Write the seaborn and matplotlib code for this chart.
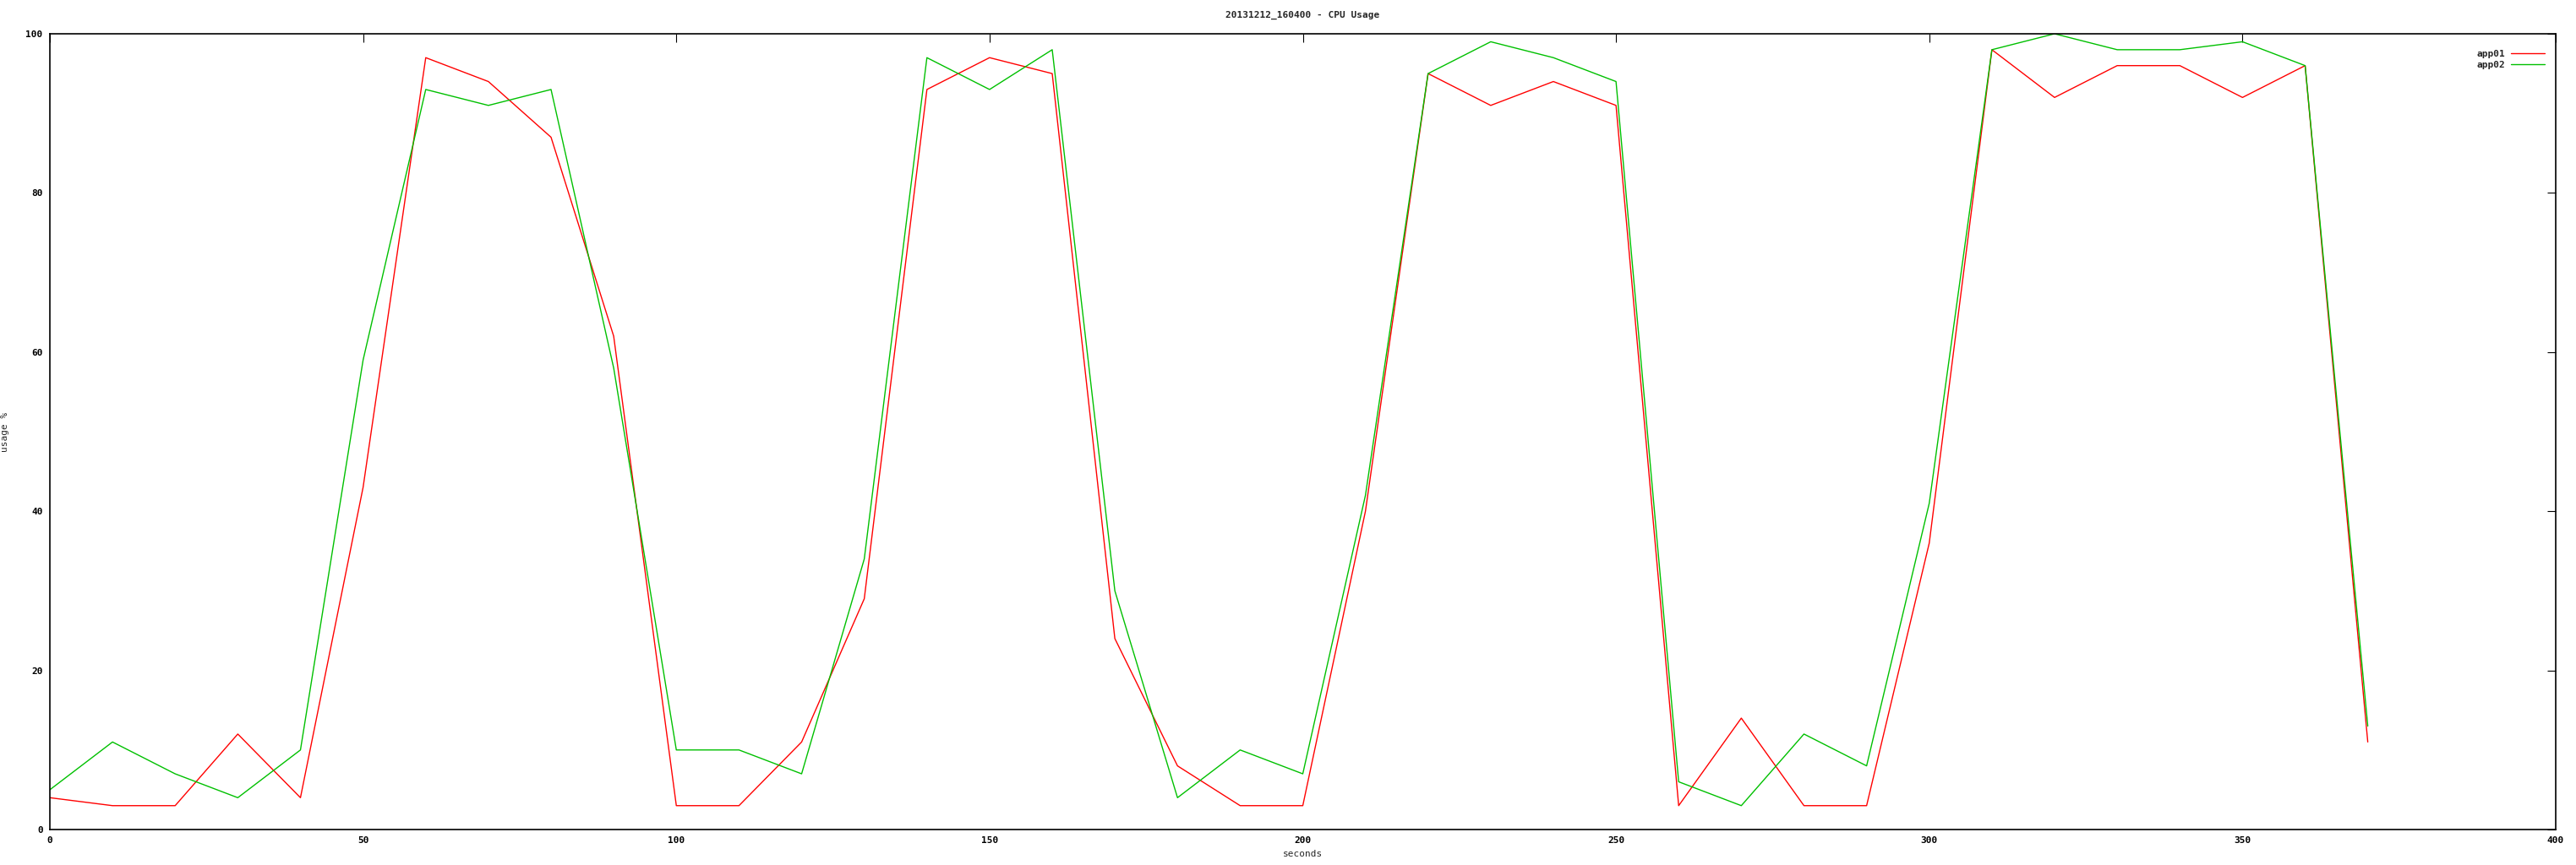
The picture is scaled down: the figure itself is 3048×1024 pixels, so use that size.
import numpy as np
import pandas as pd
import seaborn as sns
import matplotlib.pyplot as plt

# ===============================
# Data
# ===============================
SECONDS = list(range(0, 380, 10))
APP01 = [4, 3, 3, 12, 4, 43, 97, 94, 87, 62,
         3, 3, 11, 29, 93, 97, 95, 24, 8, 3,
         3, 40, 95, 91, 94, 91, 3, 14, 3, 3,
         36, 98, 92, 96, 96, 92, 96, 11]
APP02 = [5, 11, 7, 4, 10, 59, 93, 91, 93, 58,
         10, 10, 7, 34, 97, 93, 98, 30, 4, 10,
         7, 42, 95, 99, 97, 94, 6, 3, 12, 8,
         41, 98, 100, 98, 98, 99, 96, 13]
SERIES = ["app01", "app02"]
COLORS = ["#ff0000", "#00c000"]
TITLE = "20131212_160400 - CPU Usage"

df = pd.DataFrame({
    "seconds": SECONDS * 2,
    "usage": APP01 + APP02,
    "app": [SERIES[0]] * len(SECONDS) + [SERIES[1]] * len(SECONDS),
})

sns.set_style("white")
plt.rcParams["font.family"] = ["DejaVu Sans Mono", "DejaVu Sans"]
plt.rcParams["font.weight"] = "bold"

fig = plt.figure(figsize=(30.48, 10.24), dpi=100)
ax = fig.add_axes([59 / 3048, 42 / 1024, 2965 / 3048, 942 / 1024])

sns.lineplot(data=df, x="seconds", y="usage", hue="app",
             palette=dict(zip(SERIES, COLORS)), linewidth=1.0, ax=ax)

ax.set_xlim(0, 400)
ax.set_ylim(0, 100)
ax.set_xticks(range(0, 401, 50))
ax.set_yticks(range(0, 101, 20))
ax.tick_params(direction="in", length=7.2, width=0.8, top=True, right=True,
               labelsize=8, pad=6, colors="black")
for sp in ax.spines.values():
    sp.set_visible(True)
    sp.set_color("black")
    sp.set_linewidth(1.2)

ax.set_xlabel("seconds", fontsize=8, labelpad=4)
ax.set_ylabel("usage %", fontsize=8, labelpad=14)
ax.set_title(TITLE, fontsize=8, pad=14, fontweight="bold")

handles, labels = ax.get_legend_handles_labels()
ax.legend(handles, labels, loc="upper right", bbox_to_anchor=(0.997, 0.985),
          frameon=False, markerfirst=False, fontsize=8, handlelength=3.6,
          handletextpad=0.6, labelspacing=0.3, borderaxespad=0)

fig.savefig("out.png", dpi=100)
